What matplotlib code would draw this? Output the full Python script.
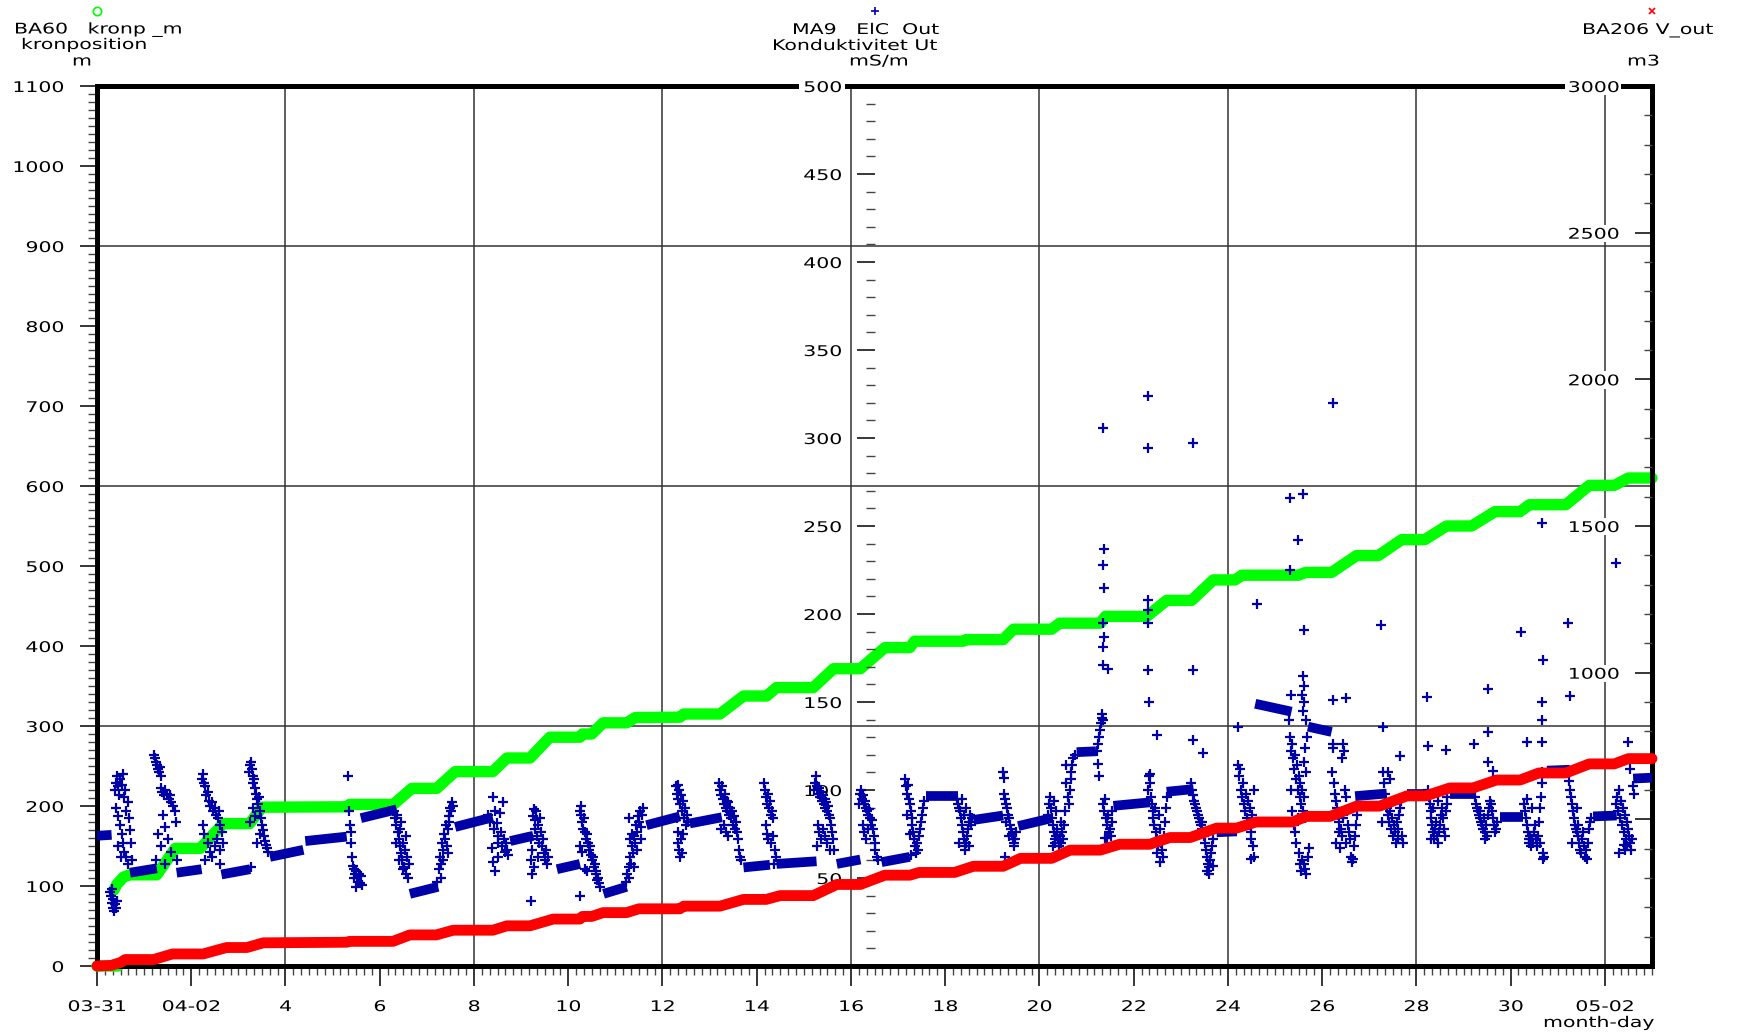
import numpy as np
import matplotlib
matplotlib.use("Agg")
import matplotlib.pyplot as plt
import matplotlib.colors as mcolors
from matplotlib.patheffects import AbstractPathEffect
from matplotlib.transforms import Affine2D
from matplotlib.path import Path
from matplotlib.lines import Line2D

# ---------------- data (x = days since 03-31 00:00) ----------------
# BA60 kronposition [m] (left axis)
green_t = [0.0, 0.45, np.nan, 0.36, 0.42, 0.56, 0.70, 1.27, 1.66, 2.19, 2.68, 3.24, 3.50, 5.33, 5.36,
           6.29, 6.68, 7.21, 7.60, 8.40, 8.70, 9.19, 9.61, 10.25, 10.30, 10.50, 10.74, 11.24,
           11.42, 12.37, 12.45, 13.22, 13.72, 14.21, 14.42, 15.20, 15.63, 16.20, 16.72, 17.25,
           17.35, 18.38, 18.45, 19.23, 19.45, 20.26, 20.43, 21.29, 21.40, 22.28, 22.70, 23.23,
           23.69, 24.15, 24.30, 25.50, 25.65, 26.20, 26.73, 27.19, 27.69, 28.18, 28.64, 29.17,
           29.67, 30.20, 30.40, 31.17, 31.67, 32.20, 32.50, 33.00]
green_m = [0, 0, np.nan, 95, 102, 111, 114, 114, 147, 147, 178, 178, 198.5, 199, 202,
           202, 222, 222, 243, 243, 260, 260, 286, 286, 290, 290, 304, 304,
           310.5, 311, 315, 315, 337.5, 337.5, 348, 348, 371.6, 371.6, 398, 398,
           406, 406, 408, 408, 421, 421, 428.5, 428.5, 437, 437, 457, 457,
           482.6, 482.6, 488.5, 488.5, 492, 492, 513, 513, 533, 533, 550, 550,
           568, 568, 576.6, 576.6, 600.8, 600.8, 610, 610]

# BA206 V_out [m3] (right axis)
red_t = [0.0, 0.30, 0.50, 0.60, 1.20, 1.60, 2.25, 2.75, 3.18, 3.53, 5.30, 5.36, 6.28, 6.64, 7.20,
         7.56, 8.40, 8.70, 9.19, 9.68, 10.25, 10.30, 10.50, 10.74, 11.24, 11.50, 12.37, 12.45,
         13.22, 13.72, 14.20, 14.50, 15.20, 15.70, 16.20, 16.72, 17.25, 17.45, 18.20, 18.60,
         19.23, 19.60, 20.26, 20.65, 21.29, 21.70, 22.34, 22.77, 23.20, 23.76, 24.18, 24.60,
         25.37, 25.67, 26.17, 26.73, 27.22, 27.80, 28.20, 28.71, 29.20, 29.70, 30.20, 30.60,
         31.17, 31.67, 32.20, 32.50, 33.00]
red_v = [0, 2, 12, 22, 22, 41, 41, 63, 63, 79, 81, 84, 84, 106, 106,
         122, 122, 137, 137, 160, 160, 169, 169, 182, 182, 195, 195, 204,
         204, 227, 227, 240, 240, 278, 278, 309.6, 309.6, 319, 319, 340,
         340, 367, 367, 395, 395, 415, 415, 438, 438, 470, 470, 491,
         491, 510, 510, 545, 545, 580, 580, 607, 607, 634, 634, 658,
         658, 689, 689, 707, 707]

# MA9 ElC Out [mS/m] (middle axis) - dense runs (start, end)
cond_run_t0 = [0.0, 0.70, 1.69, 2.64, 3.67, 4.42, 5.60, 6.64, 7.60, 8.77, 9.76, 10.75, 11.66, 12.58,
               13.72, 14.42, 15.70, 16.65, 17.60, 18.60, 19.55, 20.79, 21.57, 22.70, 23.76, 24.58,
               25.70, 26.70, 27.80, 28.71, 29.77, 30.77, 31.75, 32.60]
cond_run_t1 = [0.31, 1.27, 2.22, 3.25, 4.38, 5.30, 6.36, 7.24, 8.40, 9.26, 10.25, 11.24, 12.37, 13.26,
               14.28, 15.27, 16.20, 17.25, 18.28, 19.23, 20.26, 21.20, 22.35, 23.27, 24.19, 25.35,
               26.20, 27.37, 28.22, 29.24, 30.27, 31.26, 32.25, 33.0]
cond_run_v0 = [74, 53, 53, 52, 62, 71, 84, 41, 79, 71, 55, 41, 80, 81, 56, 58, 58, 59, 96.5, 83, 79.5,
               121.5, 91, 99, 76, 149, 136, 96.5, 98, 98, 84.5, 111, 85, 106.5]
cond_run_v1 = [74.5, 55.5, 55, 55, 66, 73.5, 89, 45, 84.5, 74, 58, 45, 85, 84.5, 57.5, 59.5, 60.5, 62,
               96.5, 85.5, 84, 122, 93, 100.5, 76.5, 144.5, 133, 98, 98, 98, 84.5, 111.5, 85.5, 107]

# scattered samples (day, mS/m)
cond_pts_a = [
    (0.28, 42), (0.30, 40), (0.31, 44), (0.32, 36), (0.33, 38), (0.35, 33), (0.36, 31), (0.38, 35), (0.40, 33), (0.42, 37),
    (0.38, 100), (0.40, 104), (0.42, 108), (0.45, 102), (0.47, 97), (0.49, 106), (0.52, 103), (0.55, 109), (0.57, 96),
    (0.60, 100), (0.62, 88), (0.65, 93), (0.40, 90), (0.44, 85), (0.48, 80), (0.52, 75), (0.55, 70), (0.58, 65),
    (0.62, 62), (0.66, 58), (0.50, 62), (0.45, 68), (0.70, 77), (0.72, 70), (0.75, 60), (0.68, 84),
    (1.22, 120), (1.24, 118), (1.26, 116), (1.28, 114), (1.30, 112), (1.32, 110), (1.34, 113), (1.36, 108), (1.35, 101),
    (1.38, 99), (1.42, 97), (1.45, 100), (1.48, 98), (1.52, 95), (1.55, 97), (1.58, 93), (1.62, 91), (1.65, 88),
    (1.68, 82), (1.40, 86), (1.45, 79), (1.30, 75), (1.35, 68), (1.25, 60), (1.50, 72), (1.58, 65), (1.70, 60), (1.45, 58),
    (2.22, 106), (2.25, 109), (2.27, 104), (2.30, 102), (2.32, 97), (2.35, 99), (2.38, 94), (2.40, 91), (2.43, 93),
    (2.46, 88), (2.50, 90), (2.53, 86), (2.56, 84), (2.58, 88), (2.62, 80), (2.65, 76), (2.25, 80), (2.28, 75),
    (2.35, 70), (2.40, 65), (2.45, 62), (2.50, 68), (2.55, 72), (2.60, 58), (2.30, 60), (2.62, 66), (2.68, 70),
    (3.22, 110), (3.24, 114), (3.26, 116), (3.28, 112), (3.30, 108), (3.32, 104), (3.34, 106), (3.36, 101), (3.38, 98),
    (3.40, 95), (3.42, 92), (3.44, 96), (3.46, 88), (3.48, 84), (3.50, 80), (3.52, 77), (3.54, 74), (3.56, 71),
    (3.58, 69), (3.60, 67), (3.62, 65), (3.30, 90), (3.35, 85), (3.25, 82), (3.45, 75), (3.40, 70), (3.26, 56),
    (5.33, 108),
    (5.35, 88), (5.37, 80), (5.38, 76), (5.40, 70), (5.42, 62), (5.44, 57), (5.46, 55), (5.48, 52), (5.50, 54),
    (5.52, 50), (5.54, 48), (5.56, 52), (5.58, 47), (5.60, 51), (5.62, 46), (5.45, 50), (5.50, 45),
    (6.30, 88), (6.32, 84), (6.34, 80), (6.36, 86), (6.38, 76), (6.40, 72), (6.42, 68), (6.44, 78), (6.46, 64),
    (6.48, 60), (6.50, 70), (6.52, 56), (6.54, 66), (6.56, 52), (6.58, 62), (6.60, 50), (6.62, 58), (6.45, 82),
    (6.55, 74), (6.40, 60), (6.50, 55), (6.35, 70),
    (7.22, 48), (7.25, 55), (7.28, 62), (7.30, 58), (7.32, 70), (7.34, 66), (7.36, 75), (7.38, 72), (7.40, 80),
    (7.42, 68), (7.44, 78), (7.46, 85), (7.48, 82), (7.50, 90), (7.52, 88), (7.54, 93), (7.56, 91), (7.35, 60),
    (7.45, 64), (7.30, 50),
]
cond_pts_b = [
    (8.30, 86), (8.35, 82), (8.40, 96), (8.42, 78), (8.45, 88), (8.48, 81), (8.50, 74), (8.52, 70), (8.55, 87),
    (8.58, 76), (8.60, 68), (8.62, 93), (8.64, 72), (8.66, 65), (8.68, 70), (8.70, 66), (8.72, 63), (8.41, 59),
    (8.45, 54), (8.38, 67), (8.50, 62),
    (9.20, 72), (9.22, 60), (9.24, 66), (9.25, 85), (9.27, 89), (9.29, 83), (9.30, 78), (9.32, 88), (9.34, 74),
    (9.36, 80), (9.38, 70), (9.40, 84), (9.42, 76), (9.44, 68), (9.46, 72), (9.48, 64), (9.50, 60), (9.52, 66),
    (9.55, 58), (9.58, 62), (9.28, 56), (9.35, 62), (9.22, 37), (9.24, 52),
    (10.26, 88), (10.28, 91), (10.27, 86), (10.30, 82), (10.32, 78), (10.34, 84), (10.36, 76), (10.38, 72),
    (10.40, 75), (10.42, 70), (10.44, 66), (10.46, 68), (10.48, 63), (10.50, 60), (10.52, 62), (10.54, 56),
    (10.56, 58), (10.58, 52), (10.60, 54), (10.62, 49), (10.64, 50), (10.66, 47), (10.68, 45), (10.25, 68),
    (10.30, 65), (10.35, 55), (10.25, 40), (10.39, 54),
    (11.22, 48), (11.25, 52), (11.28, 56), (11.30, 50), (11.32, 62), (11.34, 58), (11.36, 68), (11.38, 64),
    (11.40, 74), (11.42, 70), (11.44, 80), (11.46, 76), (11.48, 85), (11.50, 82), (11.52, 88), (11.54, 79),
    (11.56, 86), (11.58, 90), (11.35, 75), (11.45, 66), (11.40, 56), (11.32, 72), (11.28, 84), (11.55, 72),
    (12.28, 102), (12.30, 98), (12.32, 103), (12.34, 95), (12.36, 100), (12.38, 92), (12.40, 97), (12.42, 88),
    (12.44, 94), (12.46, 84), (12.48, 90), (12.50, 80), (12.32, 76), (12.34, 70), (12.36, 66), (12.38, 62),
    (12.40, 72), (12.42, 64), (12.44, 75), (12.30, 84), (12.52, 86), (12.55, 82),
    (13.20, 104), (13.22, 100), (13.24, 97), (13.26, 102), (13.28, 95), (13.30, 92), (13.32, 98), (13.34, 90),
    (13.36, 94), (13.38, 88), (13.40, 93), (13.42, 86), (13.44, 90), (13.46, 84), (13.48, 88), (13.50, 80),
    (13.52, 85), (13.54, 78), (13.56, 82), (13.58, 76), (13.60, 72), (13.62, 66), (13.64, 62), (13.66, 60),
    (13.30, 80), (13.35, 76), (13.40, 74), (13.25, 78),
    (14.15, 104), (14.17, 100), (14.20, 96), (14.22, 92), (14.24, 98), (14.26, 90), (14.28, 94), (14.30, 86),
    (14.32, 88), (14.34, 84), (14.20, 80), (14.22, 75), (14.25, 72), (14.30, 70), (14.34, 74), (14.38, 66),
    (14.40, 62), (14.36, 58),
    (15.22, 100), (15.24, 104), (15.26, 108), (15.28, 102), (15.30, 98), (15.32, 101), (15.34, 96), (15.36, 99),
    (15.38, 94), (15.40, 97), (15.42, 92), (15.44, 95), (15.46, 90), (15.48, 93), (15.50, 88), (15.52, 91),
    (15.54, 86), (15.56, 84), (15.58, 80), (15.60, 76), (15.62, 72), (15.64, 66), (15.30, 80), (15.32, 76),
    (15.36, 72), (15.40, 78), (15.45, 74), (15.50, 70), (15.55, 66), (15.28, 68),
]
cond_pts_c = [
    (16.18, 92), (16.20, 98), (16.22, 100), (16.24, 95), (16.26, 97), (16.28, 92), (16.30, 94), (16.32, 90),
    (16.34, 88), (16.36, 86), (16.38, 89), (16.40, 84), (16.42, 80), (16.44, 83), (16.46, 78), (16.48, 74),
    (16.50, 70), (16.52, 66), (16.25, 80), (16.28, 76), (16.32, 72), (16.36, 78), (16.55, 62), (16.58, 60),
    (17.15, 106), (17.17, 102), (17.19, 98), (17.21, 103), (17.23, 95), (17.25, 92), (17.27, 88), (17.29, 84),
    (17.30, 80), (17.32, 76), (17.34, 72), (17.36, 68), (17.38, 64), (17.40, 70), (17.42, 66), (17.44, 74),
    (17.46, 78), (17.48, 82), (17.50, 86), (17.52, 90), (17.54, 94), (17.28, 63), (17.20, 86), (17.25, 75),
    (18.25, 95), (18.27, 92), (18.29, 90), (18.31, 88), (18.33, 84), (18.35, 80), (18.37, 76), (18.39, 72),
    (18.41, 68), (18.43, 66), (18.45, 70), (18.47, 74), (18.49, 78), (18.51, 82), (18.53, 86), (18.55, 80),
    (18.57, 84), (18.35, 95), (18.40, 86), (18.45, 90), (18.50, 68), (18.30, 70),
    (19.23, 110), (19.24, 107), (19.25, 98), (19.27, 95), (19.29, 92), (19.31, 90), (19.33, 86), (19.35, 84),
    (19.37, 80), (19.39, 78), (19.41, 75), (19.43, 72), (19.45, 70), (19.47, 68), (19.49, 72), (19.51, 76),
    (19.30, 82), (19.27, 62), (19.35, 74),
    (20.18, 86), (20.20, 92), (20.22, 96), (20.24, 90), (20.26, 84), (20.28, 80), (20.30, 76), (20.32, 72),
    (20.34, 70), (20.36, 74), (20.38, 78), (20.40, 72), (20.42, 68), (20.44, 74), (20.46, 70), (20.48, 76),
    (20.50, 72), (20.52, 80), (20.54, 88), (20.56, 114), (20.57, 104), (20.60, 96), (20.62, 92), (20.64, 100),
    (20.66, 106), (20.68, 110), (20.70, 114), (20.72, 118), (20.75, 120), (20.30, 94), (20.35, 88), (20.45, 82),
    (20.28, 68),
    (21.22, 122), (21.24, 126), (21.26, 130), (21.28, 134), (21.30, 138), (21.32, 141), (21.33, 143), (21.34, 140),
    (21.25, 115), (21.27, 108), (21.35, 305.5), (21.36, 237), (21.35, 228), (21.36, 214.6), (21.35, 195),
    (21.36, 187), (21.35, 181), (21.34, 171), (21.46, 169), (21.35, 92), (21.37, 88), (21.39, 95), (21.41, 84),
    (21.43, 80), (21.45, 86), (21.47, 76), (21.49, 78), (21.51, 74), (21.53, 82), (21.55, 88), (21.40, 73),
    (21.43, 72.6),
    (22.31, 323.7), (22.31, 294.5), (22.31, 208), (22.31, 202), (22.31, 195), (22.31, 168), (22.32, 150),
    (22.49, 131), (22.30, 100), (22.32, 108), (22.34, 104), (22.36, 96), (22.38, 92), (22.40, 88), (22.42, 84),
    (22.44, 80), (22.46, 90), (22.48, 76), (22.50, 72), (22.52, 68), (22.54, 86), (22.56, 78), (22.58, 70),
    (22.60, 66), (22.62, 62), (22.64, 74), (22.66, 82), (22.68, 90), (22.70, 96), (22.55, 59), (22.50, 64),
    (22.35, 109),
    (23.25, 297), (23.25, 168), (23.25, 128.5), (23.48, 121), (23.22, 104), (23.24, 100), (23.26, 97),
    (23.28, 94), (23.30, 92), (23.32, 90), (23.34, 88), (23.36, 86), (23.38, 84), (23.40, 82), (23.42, 80),
    (23.44, 78), (23.46, 82), (23.48, 76), (23.50, 74), (23.52, 70), (23.54, 66), (23.56, 62), (23.58, 58),
    (23.60, 56), (23.62, 60), (23.64, 64), (23.66, 68), (23.68, 72), (23.56, 54), (23.60, 52), (23.69, 56.6),
]
cond_pts_d = [
    (24.22, 136), (24.22, 114), (24.24, 108), (24.26, 112), (24.28, 100), (24.30, 96), (24.32, 104), (24.34, 92),
    (24.36, 88), (24.38, 98), (24.40, 84), (24.42, 94), (24.44, 80), (24.46, 90), (24.48, 76), (24.50, 72),
    (24.52, 86), (24.54, 68), (24.56, 62), (24.58, 82), (24.55, 100), (24.61, 205.5), (24.50, 61),
    (25.32, 266), (25.60, 268), (25.48, 242), (25.32, 225), (25.62, 191), (25.59, 164.6), (25.33, 154),
    (25.30, 140), (25.32, 130), (25.34, 122), (25.36, 126), (25.38, 118), (25.40, 112), (25.42, 120),
    (25.44, 106), (25.46, 114), (25.48, 100), (25.50, 108), (25.52, 96), (25.54, 104), (25.56, 92), (25.58, 100),
    (25.60, 88), (25.62, 96), (25.64, 84), (25.66, 110), (25.68, 130), (25.35, 88), (25.40, 80), (25.42, 76),
    (25.45, 70), (25.48, 84), (25.50, 64), (25.52, 58), (25.55, 54), (25.58, 60), (25.34, 100), (25.62, 116),
    (25.64, 124), (25.66, 140), (25.60, 145), (25.62, 150), (25.58, 154), (25.61, 159), (25.62, 58), (25.65, 52),
    (25.63, 55), (25.73, 67), (25.71, 62),
    (26.22, 320), (26.22, 151), (26.50, 152), (26.20, 110), (26.22, 126), (26.24, 124), (26.26, 104), (26.28, 98),
    (26.30, 94), (26.32, 90), (26.34, 86), (26.36, 82), (26.38, 67), (26.40, 78), (26.42, 74), (26.43, 118),
    (26.45, 126), (26.47, 122), (26.49, 100), (26.51, 96), (26.53, 88), (26.55, 80), (26.57, 76), (26.59, 72),
    (26.61, 62), (26.63, 59), (26.65, 61), (26.67, 68), (26.69, 74), (26.71, 80), (26.73, 86), (26.30, 70),
    (26.35, 76), (26.50, 70), (26.45, 84),
    (27.24, 194), (27.30, 136), (27.65, 119.4), (27.30, 110), (27.32, 104), (27.34, 98), (27.36, 94), (27.38, 90),
    (27.40, 86), (27.42, 82), (27.44, 88), (27.46, 78), (27.48, 84), (27.50, 74), (27.52, 80), (27.54, 76),
    (27.56, 70), (27.58, 82), (27.60, 78), (27.62, 72), (27.64, 86), (27.66, 90), (27.68, 94), (27.70, 74),
    (27.72, 70), (27.26, 82), (27.40, 110), (27.44, 106),
    (28.22, 153), (28.24, 125), (28.63, 123), (28.24, 100), (28.26, 96), (28.28, 92), (28.30, 88), (28.32, 84),
    (28.34, 80), (28.36, 76), (28.38, 72), (28.40, 78), (28.42, 82), (28.44, 74), (28.46, 70), (28.48, 76),
    (28.50, 80), (28.52, 86), (28.54, 90), (28.56, 84), (28.58, 78), (28.60, 74), (28.62, 88), (28.64, 92),
    (28.66, 96), (28.30, 72), (28.36, 90), (28.45, 94),
    (29.22, 126), (29.53, 133), (29.53, 157.5), (29.53, 116), (29.63, 111), (29.24, 96), (29.26, 92), (29.28, 90),
    (29.30, 88), (29.32, 86), (29.34, 84), (29.36, 88), (29.38, 82), (29.40, 80), (29.42, 78), (29.44, 84),
    (29.46, 76), (29.48, 80), (29.50, 74), (29.52, 86), (29.54, 90), (29.56, 94), (29.58, 92), (29.60, 88),
    (29.62, 84), (29.64, 80), (29.66, 76), (29.68, 78), (29.70, 82), (29.45, 72),
    (30.22, 189.7), (30.66, 251.8), (30.68, 174), (30.66, 150), (30.66, 140), (30.66, 127), (30.34, 127),
    (30.69, 61), (30.28, 92), (30.30, 88), (30.32, 84), (30.34, 80), (30.36, 76), (30.38, 72), (30.40, 70),
    (30.42, 74), (30.44, 68), (30.46, 72), (30.48, 70), (30.50, 76), (30.52, 80), (30.54, 72), (30.56, 68),
    (30.58, 74), (30.60, 82), (30.62, 90), (30.64, 96), (30.66, 104), (30.67, 110), (30.68, 64), (30.70, 62),
    (30.35, 95), (30.45, 90), (30.62, 70),
    (31.22, 194.7), (31.25, 153.4), (31.24, 105), (31.26, 100), (31.28, 96), (31.30, 92), (31.32, 88), (31.34, 84),
    (31.36, 80), (31.38, 78), (31.40, 76), (31.42, 80), (31.44, 74), (31.46, 70), (31.48, 66), (31.50, 64),
    (31.52, 72), (31.54, 76), (31.56, 68), (31.58, 62), (31.60, 66), (31.62, 61), (31.64, 70), (31.66, 78),
    (31.68, 82), (31.70, 84), (31.30, 70), (31.40, 90),
    (32.24, 229), (32.50, 127), (32.53, 112), (32.43, 66), (32.24, 92), (32.26, 96), (32.28, 88), (32.30, 100),
    (32.32, 84), (32.34, 94), (32.36, 80), (32.38, 90), (32.40, 76), (32.42, 86), (32.44, 72), (32.46, 82),
    (32.48, 68), (32.50, 78), (32.52, 74), (32.54, 70), (32.56, 66), (32.58, 72), (32.60, 102), (32.62, 98),
    (32.30, 64), (32.40, 69),
]

# axis texts
x_major_days = list(range(0, 33, 2))
x_labels = ["03-31", "04-02", "4", "6", "8", "10", "12", "14", "16", "18", "20", "22", "24",
            "26", "28", "30", "05-02"]
grid_days = [4, 8, 12, 16, 20, 24, 28, 32]
grid_left = [300, 600, 900]
left_ticks = list(range(0, 1101, 100))
mid_ticks = list(range(50, 501, 50))
right_ticks = list(range(500, 3001, 500))
right_labels = ["", "1000", "1500", "2000", "2500", "3000"]

# ---------------- styling helpers ----------------
W, H = 1742, 1033
FS = 10.6
SX = 1.39
GREEN = "#00ff00"
RED = "#ff0000"
BLUE = "#0000a8"
plt.rcParams["font.family"] = ["DejaVu Sans"]


class HStretch(AbstractPathEffect):
    """Horizontally widen glyphs (the reference uses a wide font)."""

    def __init__(self, sx=SX, anchor="right", bg=None, pad=2.0):
        super().__init__()
        self.sx, self.anchor, self.bg, self.pad = sx, anchor, bg, pad

    def draw_path(self, renderer, gc, tpath, affine, rgbFace=None):
        v = tpath.vertices
        if len(v) == 0:
            return
        x0, x1 = v[:, 0].min(), v[:, 0].max()
        xa = x1 if self.anchor == "right" else (0.5 * (x0 + x1) if self.anchor == "center" else 0.0)
        t = Affine2D().translate(-xa, 0).scale(self.sx, 1.0).translate(xa, 0) + affine
        if self.bg is not None:
            d = t.transform(v)
            p = self.pad
            xmn, xmx = d[:, 0].min() - p, d[:, 0].max() + p
            ymn, ymx = d[:, 1].min() - p, d[:, 1].max() + p
            rect = Path([(xmn, ymn), (xmx, ymn), (xmx, ymx), (xmn, ymx), (xmn, ymn)], closed=True)
            gc0 = renderer.new_gc()
            gc0.copy_properties(gc)
            gc0.set_linewidth(0)
            renderer.draw_path(gc0, rect, Affine2D(), mcolors.to_rgb(self.bg))
            gc0.restore()
        renderer.draw_path(gc, tpath, t, rgbFace)


def fx(x):
    return x / W


def fy(y):
    return 1 - y / H


fig = plt.figure(figsize=(W / 100, H / 100), dpi=100)
fig.patch.set_facecolor("white")
ax = fig.add_axes([fx(97), fy(966), 1555 / W, 880 / H])
ax.set_xlim(0, 33)
ax.set_ylim(0, 1100)

for s in ax.spines.values():
    s.set_linewidth(3.6)
    s.set_color("black")

for d in grid_days:
    ax.axvline(d, color="#333333", lw=1.1, zorder=0.5)
for g in grid_left:
    ax.axhline(g, color="#333333", lw=1.1, zorder=0.5)

# x axis
ax.set_xticks(x_major_days)
ax.set_xticklabels(x_labels)
ax.set_xticks(np.arange(0, 33.01, 1 / 6), minor=True)
ax.tick_params(axis="x", which="major", direction="out", length=14.4, width=1.1, pad=9.4,
               labelsize=FS, color="black", top=False)
ax.tick_params(axis="x", which="minor", direction="out", length=6.5, width=1.0, color="#444444", top=False)

# left axis
ax.set_yticks(left_ticks)
ax.set_yticklabels([str(v) for v in left_ticks])
ax.set_yticks(np.arange(0, 1101, 10), minor=True)
ax.tick_params(axis="y", which="major", direction="out", length=12.2, width=1.1, pad=11.5,
               labelsize=FS, color="black", right=False)
ax.tick_params(axis="y", which="minor", direction="out", length=6.5, width=1.0, color="#444444", right=False)

ax.plot(green_t, green_m, color=GREEN, lw=8.2, solid_capstyle="round", solid_joinstyle="round",
        clip_on=False, zorder=2)

# middle axis (conductivity)
ax_mid = ax.twinx()
ax_mid.set_ylim(0, 500)
for s in ax_mid.spines.values():
    s.set_visible(False)
ax_mid.spines["left"].set_position(("axes", (875 - 97) / 1555))
ax_mid.yaxis.set_ticks_position("left")
ax_mid.set_yticks(mid_ticks)
ax_mid.set_yticklabels([str(v) for v in mid_ticks])
ax_mid.set_yticks(np.arange(10, 491, 10), minor=True)
ax_mid.tick_params(axis="y", which="major", direction="out", length=13, width=1.1, pad=10.8,
                   labelsize=FS, color="black")
ax_mid.tick_params(axis="y", which="minor", direction="out", length=6.5, width=1.0, color="#444444")

for a, b, c, d in zip(cond_run_t0, cond_run_t1, cond_run_v0, cond_run_v1):
    ax_mid.plot([a, b], [c, d], color=BLUE, lw=7.0, solid_capstyle="butt", zorder=2)
pts = cond_pts_a + cond_pts_b + cond_pts_c + cond_pts_d
ax_mid.plot([p[0] for p in pts], [p[1] for p in pts], linestyle="none", marker="+", ms=7.2,
            mew=1.6, color=BLUE, zorder=2)

# right axis (volume)
ax_r = ax.twinx()
ax_r.set_ylim(0, 3000)
for s in ax_r.spines.values():
    s.set_visible(False)
ax_r.spines["left"].set_position(("axes", 1.0))
ax_r.yaxis.set_ticks_position("left")
ax_r.set_yticks(right_ticks)
ax_r.set_yticklabels(right_labels)
ax_r.set_yticks(np.arange(100, 3000, 100), minor=True)
ax_r.tick_params(axis="y", which="major", direction="out", length=12.6, width=1.1, pad=10.8,
                 labelsize=FS, color="black")
ax_r.tick_params(axis="y", which="minor", direction="out", length=6.1, width=1.0, color="#444444")
ax_r.plot(red_t, red_v, color=RED, lw=7.8, solid_capstyle="round", solid_joinstyle="round",
          clip_on=False, zorder=2)

# stretched tick labels
for t in ax.xaxis.get_major_ticks():
    for lab in (t.label1, t.label2):
        lab.set_path_effects([HStretch(anchor="center")])
for t in ax.yaxis.get_major_ticks():
    for lab in (t.label1, t.label2):
        lab.set_path_effects([HStretch(anchor="right")])
mt = ax_mid.yaxis.get_major_ticks()
for i, t in enumerate(mt):
    bg = "white" if i == len(mt) - 1 else None
    for lab in (t.label1, t.label2):
        lab.set_path_effects([HStretch(anchor="right", bg=bg, pad=4)])
for t in ax_r.yaxis.get_major_ticks():
    for lab in (t.label1, t.label2):
        lab.set_path_effects([HStretch(anchor="right", bg="white", pad=3)])

# header texts
def head(x, y, s):
    fig.text(fx(x), fy(y), s, ha="left", va="baseline", fontsize=FS, color="black",
             path_effects=[HStretch(anchor="left")])


head(14, 33.5, "BA60   kronp _m")
head(21, 49, "kronposition")
head(72, 65.5, "m")
head(792, 34, "MA9   ElC  Out")
head(772, 50, "Konduktivitet Ut")
head(849, 65.5, "mS/m")
head(1582, 34, "BA206 V_out")
head(1627, 65.5, "m3")
fig.text(fx(1655), fy(1027), "month-day", ha="right", va="baseline", fontsize=FS, color="black",
         path_effects=[HStretch(anchor="right")])

fig.add_artist(Line2D([fx(97)], [fy(10.7)], transform=fig.transFigure, marker="o", ms=6,
                      mfc="none", mec=GREEN, mew=1.2, linestyle="none"))
fig.add_artist(Line2D([fx(875)], [fy(10.7)], transform=fig.transFigure, marker="+", ms=6.2,
                      color=BLUE, mew=1.2, linestyle="none"))
fig.add_artist(Line2D([fx(1652)], [fy(10.7)], transform=fig.transFigure, marker="x", ms=5,
                      color=RED, mew=1.2, linestyle="none"))

fig.savefig("out.png", dpi=100, facecolor="white")
